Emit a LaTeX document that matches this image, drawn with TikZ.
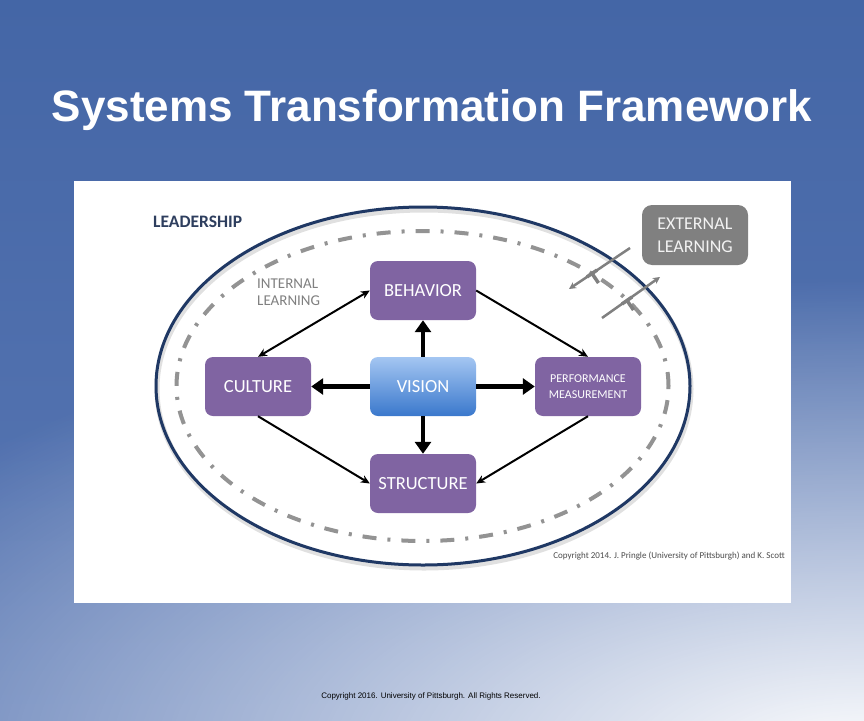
\documentclass[tikz,border=0pt]{standalone}
\usepackage{fontspec}
\setmainfont{Carlito}
\newfontfamily\arialfont{Liberation Sans}
\usetikzlibrary{arrows.meta,calc,fadings}
\definecolor{bgblue}{RGB}{68,102,166}
\definecolor{bgblue2}{RGB}{90,120,180}
\definecolor{boxpurple}{RGB}{128,100,162}
\definecolor{navy}{RGB}{31,56,100}
\definecolor{lgray}{RGB}{128,128,128}
\definecolor{vtop}{RGB}{164,198,242}
\definecolor{vbot}{RGB}{58,120,204}
\definecolor{leadc}{RGB}{46,62,94}
\tikzfading[name=glowfade, inner color=transparent!0, outer color=transparent!100]
\tikzset{
  box/.style={rounded corners=8pt, fill=boxpurple, minimum width=106pt, minimum height=59pt,
    text=white, font=\fontsize{18.5}{21}\selectfont, align=center, inner sep=0pt},
  bigarrow/.style={line width=4.5pt, -{Triangle[width=16pt,length=12pt]}},
  smallarrow/.style={line width=2pt, -{Stealth[width=8pt,length=9pt]}},
  extarrow/.style={lgray, line width=2.5pt, -{Stealth[width=7pt,length=7pt]}},
  tick/.style={lgray, line width=3.5pt}
}
\begin{document}
\begin{tikzpicture}[x=1pt,y=-1pt]
\useasboundingbox (0,0) rectangle (864,720);
\begin{scope}
  \clip (0,0) rectangle (864,720);
  \shade[top color=bgblue, bottom color=bgblue2] (0,0) rectangle (864,720);
  \fill[white, path fading=glowfade] (864,760) ellipse [x radius=1150pt, y radius=480pt];
\end{scope}

\node[font=\arialfont\bfseries\fontsize{44}{50}\selectfont, text=white] (title) at (432,110) {Systems Transformation Framework};

\node[fill=white, inner sep=0pt, minimum width=717pt, minimum height=422pt] (panel) at (432.5,392) {};

\draw[black, opacity=0.12, line width=5pt] (424,389) ellipse [x radius=267pt, y radius=179pt];
\draw[navy, line width=3pt] (423,386) ellipse [x radius=267pt, y radius=179pt];
\draw[lgray!85, line width=4pt, dash pattern=on 14pt off 11pt on 3pt off 11pt] (422.5,386) ellipse [x radius=246pt, y radius=155pt];

\node[box] (behavior) at (423,290.5) {BEHAVIOR};
\node[box] (culture) at (258,386.5) {CULTURE};
\node[box, fill=none, top color=vtop, bottom color=vbot] (vision) at (423,386.5) {VISION};
\node[box, font=\fontsize{12}{15.5}\selectfont] (perf) at (588,386.5) {PERFORMANCE\\MEASUREMENT};
\node[box] (structure) at (423,483.5) {STRUCTURE};

\node[rounded corners=10pt, fill=lgray, minimum width=106pt, minimum height=60pt, inner sep=0pt,
      text=white!90!lgray, font=\fontsize{18}{23}\selectfont, align=left] (external) at (695,235)
      {EXTERNAL\\LEARNING};

\node[anchor=west, font=\bfseries\fontsize{17.5}{20}\selectfont, text=leadc, inner sep=0pt] (leadership) at (153,222) {LEADERSHIP};
\node[anchor=west, font=\fontsize{15}{17}\selectfont, text=lgray, align=left, inner sep=0pt] (internal) at (257,292) {INTERNAL\\LEARNING};

\node[anchor=east, font=\fontsize{9}{11}\selectfont, text=black!70, inner sep=0pt] (copy1) at (785,556) {Copyright 2014. J. Pringle (University of Pittsburgh) and K. Scott};
\node[font=\arialfont\fontsize{8}{10}\selectfont, text=black, inner sep=0pt] (copy2) at (431,696) {Copyright 2016. University of Pittsburgh. All Rights Reserved.};

\draw[bigarrow] (vision) -- (behavior);
\draw[bigarrow] (vision) -- (structure);
\draw[bigarrow] (vision) -- (culture);
\draw[bigarrow] (vision) -- (perf);

\draw[smallarrow, {Stealth[width=8pt,length=9pt]}-{Stealth[width=8pt,length=9pt]}] (behavior.west) -- (culture.north);
\draw[smallarrow] (behavior.east) -- (perf.north);
\draw[smallarrow] (culture.south) -- (structure.west);
\draw[smallarrow] (perf.south) -- (structure.east);

\coordinate (a1s) at (630,248);
\coordinate (a1e) at (569,289);
\coordinate (a2s) at (602,318);
\coordinate (a2e) at (660,277);
\draw[extarrow] (a1s) -- (a1e);
\draw[extarrow] (a2s) -- (a2e);
\coordinate (t1) at (592,273.5);
\coordinate (t2) at (627,300.5);
\draw[tick] ($(t1)+(-5,3.4)$) -- ($(t1)+(5,-3.4)$);
\draw[tick] (t1) -- ($(t1)+(6.5,9.5)$);
\draw[tick] ($(t2)+(-5,3.5)$) -- ($(t2)+(5,-3.5)$);
\draw[tick] (t2) -- ($(t2)+(6.5,9.5)$);
\end{tikzpicture}
\end{document}
